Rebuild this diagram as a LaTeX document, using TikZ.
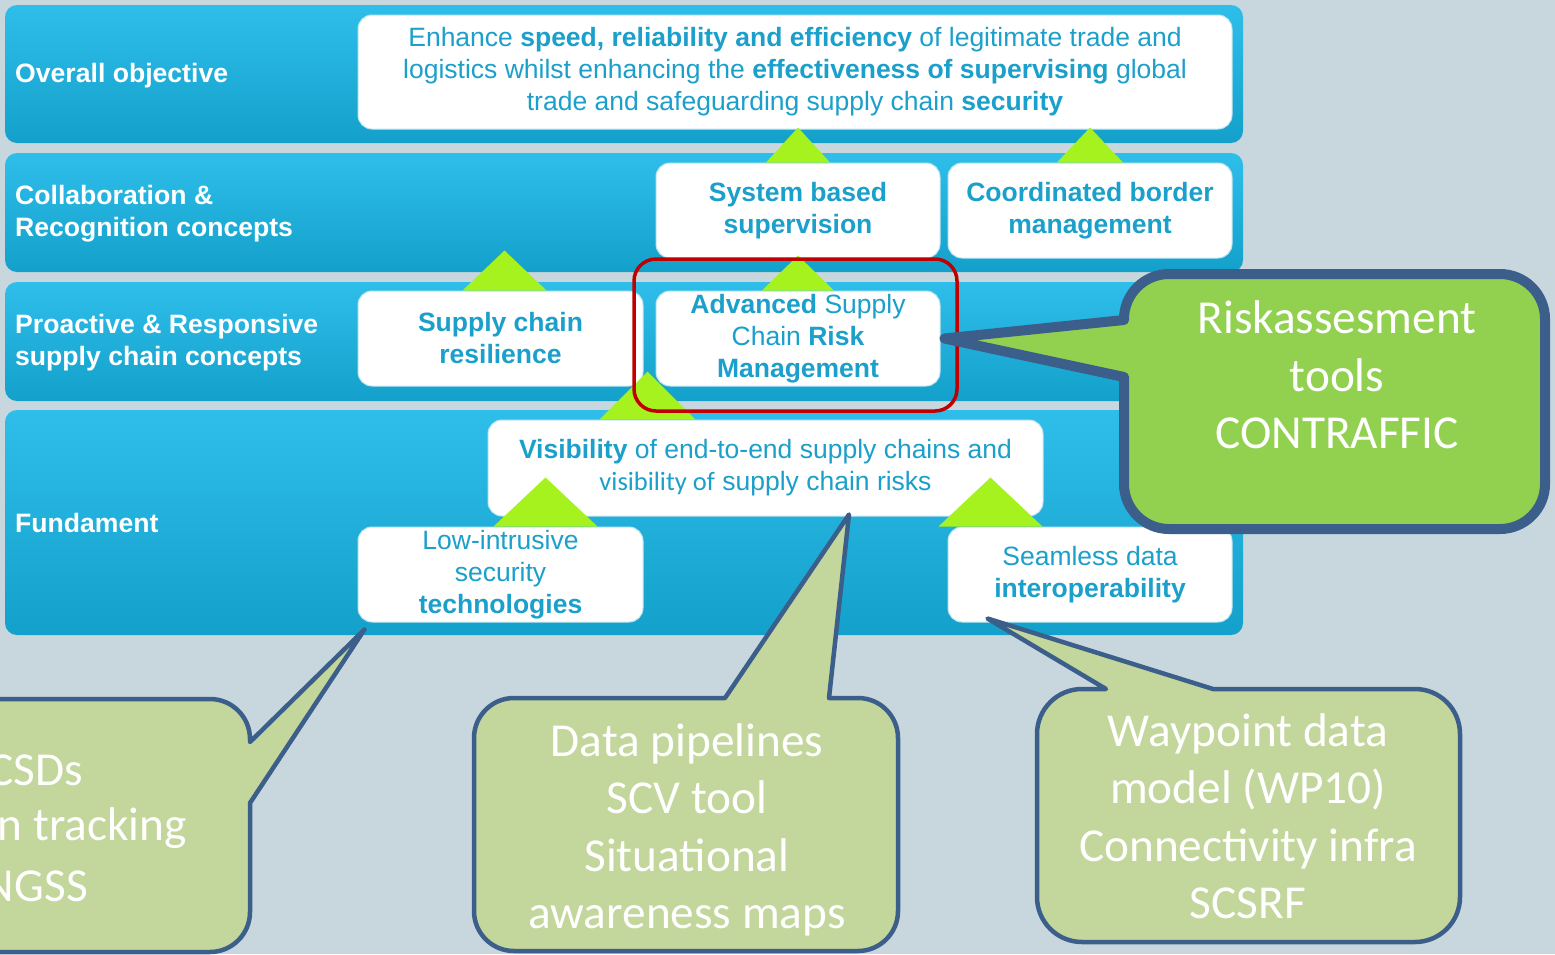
\documentclass[tikz,border=0pt]{standalone}
\usepackage{fontspec}
\setmainfont{Liberation Sans}
\newfontfamily\calibrifont{Carlito}
\usepackage{tikz}
\usetikzlibrary{calc}
\definecolor{pageBg}{HTML}{C8D7DD}
\definecolor{bandTop}{HTML}{2FBEEA}
\definecolor{bandBottom}{HTML}{13A1CB}
\definecolor{boxText}{HTML}{1B9FCB}
\definecolor{boxEdge}{HTML}{BFE4F0}
\definecolor{limeGreen}{HTML}{A6F21E}
\definecolor{markRed}{HTML}{C00000}
\definecolor{calloutLine}{HTML}{3B5E8A}
\definecolor{calloutFill}{HTML}{C3D69B}
\definecolor{calloutBright}{HTML}{92D050}

\begin{document}
\begin{tikzpicture}[
    x=1pt, y=-1pt,
    band/.style={top color=bandTop, bottom color=bandBottom, rounded corners=12pt},
    bandlabel/.style={anchor=west, align=left, text=white, inner sep=0pt,
        font=\fontsize{26.6}{32}\selectfont\bfseries},
    whitebox/.style={draw=boxEdge, line width=1pt, fill=white, rounded corners=14pt,
        align=center, text=boxText, inner sep=0pt, font=\fontsize{26.5}{32}\selectfont,
        execute at begin node={\rule{0pt}{29pt}}},
    boldbox/.style={whitebox, font=\fontsize{26.5}{32}\selectfont\bfseries},
    arrowhead/.style={fill=limeGreen},
    callout/.style={draw=calloutLine, line width=4.5pt, fill=calloutFill, line join=round},
    bigcallout/.style={callout, line width=10pt, fill=calloutBright},
    callouttext/.style={text=white, align=center, inner sep=0pt,
        font=\calibrifont\fontsize{47.3}{57.5}\selectfont}
]
\useasboundingbox (0,0) rectangle (1555,954);
\fill[pageBg] (0,0) rectangle (1555,954);

% layers
\path[band] (5,5) rectangle (1243,143);
\path[band] (5,153) rectangle (1243,272);
\path[band] (5,282) rectangle (1243,401);
\path[band] (5,410) rectangle (1243,635);

\node[bandlabel] (objlabel) at (15,76) {Overall objective};
\node[bandlabel] (collablabel) at (15,214) {Collaboration \&\\Recognition concepts};
\node[bandlabel] (proactlabel) at (15,343) {Proactive \& Responsive\\supply chain concepts};
\node[bandlabel] (fundlabel) at (15,523) {Fundament};

% boxes
\node[whitebox, minimum width=874, minimum height=114] (objective) at (795,72)
    {Enhance \textbf{speed, reliability and efficiency} of legitimate trade and\\
     logistics whilst enhancing the \textbf{effectiveness of supervising} global\\
     trade and safeguarding supply chain \textbf{security}};
\node[boldbox, minimum width=284, minimum height=95] (sysbased) at (798,210.5)
    {System based\\supervision};
\node[boldbox, minimum width=284, minimum height=95] (coordborder) at (1090,210.5)
    {Coordinated border\\management};
\node[boldbox, minimum width=285, minimum height=95] (resilience) at (500.5,338.5)
    {Supply chain\\resilience};
\node[whitebox, minimum width=284, minimum height=95] (ascrm) at (798,338.5)
    {\textbf{Advanced} Supply\\Chain \textbf{Risk}\\\textbf{Management}};
\node[whitebox, minimum width=555, minimum height=96] (visibility) at (765.5,468)
    {\textbf{Visibility} of end-to-end supply chains and\\
     {\calibrifont visibility of} supply chain risks};
\node[whitebox, minimum width=285, minimum height=95] (lowintrusive) at (500.5,574.5)
    {Low-intrusive\\security\\\textbf{technologies}};
\node[whitebox, minimum width=284, minimum height=95] (seamless) at (1090,574.5)
    {Seamless data\\\textbf{interoperability}};

% green pointers
\fill[arrowhead] (sysbased.north) ++(0,-35) -- ++(-32,35) -- ++(64,0) -- cycle;
\fill[arrowhead] (coordborder.north) ++(0,-35) -- ++(-33,35) -- ++(66,0) -- cycle;
\fill[arrowhead] ([xshift=4pt]resilience.north) ++(0,-40) -- ++(-42,40) -- ++(84,0) -- cycle;
\fill[arrowhead] (ascrm.north) ++(0,-35) -- ++(-36,35) -- ++(72,0) -- cycle;
\fill[arrowhead] ([xshift=-118pt]visibility.north) ++(0,-48) -- ++(-48,48) -- ++(96,0) -- cycle;
\fill[arrowhead] ([xshift=45pt]lowintrusive.north) ++(0,-49) -- ++(-52,49) -- ++(104,0) -- cycle;
\fill[arrowhead] ([xshift=-99.5pt]seamless.north) ++(0,-49) -- ++(-52,49) -- ++(104,0) -- cycle;

\draw[markRed, line width=3.5pt, rounded corners=22pt] (634,259) rectangle (957,411);

% callouts
\coordinate (risktip) at ([xshift=4pt]ascrm.east);
\coordinate (datatip) at ($(visibility.south)+(83.5,-2)$);
\coordinate (waytip) at ($(seamless.south west)+(40,-4)$);
\coordinate (lefttip) at ($(lowintrusive.south west)+(7,7)$);

\draw[bigcallout] (1124,377) -- (1124,484) arc[start angle=180, end angle=90, radius=45]
    -- (1500,529) arc[start angle=90, end angle=0, radius=45]
    -- (1545,319) arc[start angle=0, end angle=-90, radius=45]
    -- (1169,274) arc[start angle=270, end angle=180, radius=45]
    -- (1124,320) -- (risktip) -- cycle;
\node[callouttext] (risktext) at (1337,375) {Riskassesment\\tools\\CONTRAFFIC};

\draw[callout] (-150,699) -- (210,699) arc[start angle=270, end angle=360, radius=40]
    -- (250,742) -- (lefttip) -- (250,803)
    -- (250,912) arc[start angle=0, end angle=90, radius=40]
    -- (-150,952) arc[start angle=90, end angle=180, radius=40]
    -- (-190,739) arc[start angle=180, end angle=270, radius=40] -- cycle;
\node[callouttext, anchor=east] (csdtext) at (83,770) {CSDs};
\node[callouttext, anchor=east] (tracktext) at (187,828) {n tracking};
\node[callouttext, anchor=east] (ngsstext) at (88,886) {NGSS};

\draw[callout] (514,698) -- (725,698) -- (datatip) -- (829,698)
    -- (858,698) arc[start angle=270, end angle=360, radius=40]
    -- (898,911) arc[start angle=0, end angle=90, radius=40]
    -- (514,951) arc[start angle=90, end angle=180, radius=40]
    -- (474,738) arc[start angle=180, end angle=270, radius=40] -- cycle;
\node[callouttext] (datatext) at (687,830) {Data pipelines\\SCV tool\\Situational\\awareness maps};

\draw[callout] (1082,689) -- (1106,689) -- (waytip) -- (1213,689)
    -- (1415,689) arc[start angle=270, end angle=360, radius=45]
    -- (1460,897) arc[start angle=0, end angle=90, radius=45]
    -- (1082,942) arc[start angle=90, end angle=180, radius=45]
    -- (1037,734) arc[start angle=180, end angle=270, radius=45] -- cycle;
\node[callouttext] (waytext) at (1248,816) {Waypoint data\\model (WP10)\\Connectivity infra\\SCSRF};
\end{tikzpicture}
\end{document}
